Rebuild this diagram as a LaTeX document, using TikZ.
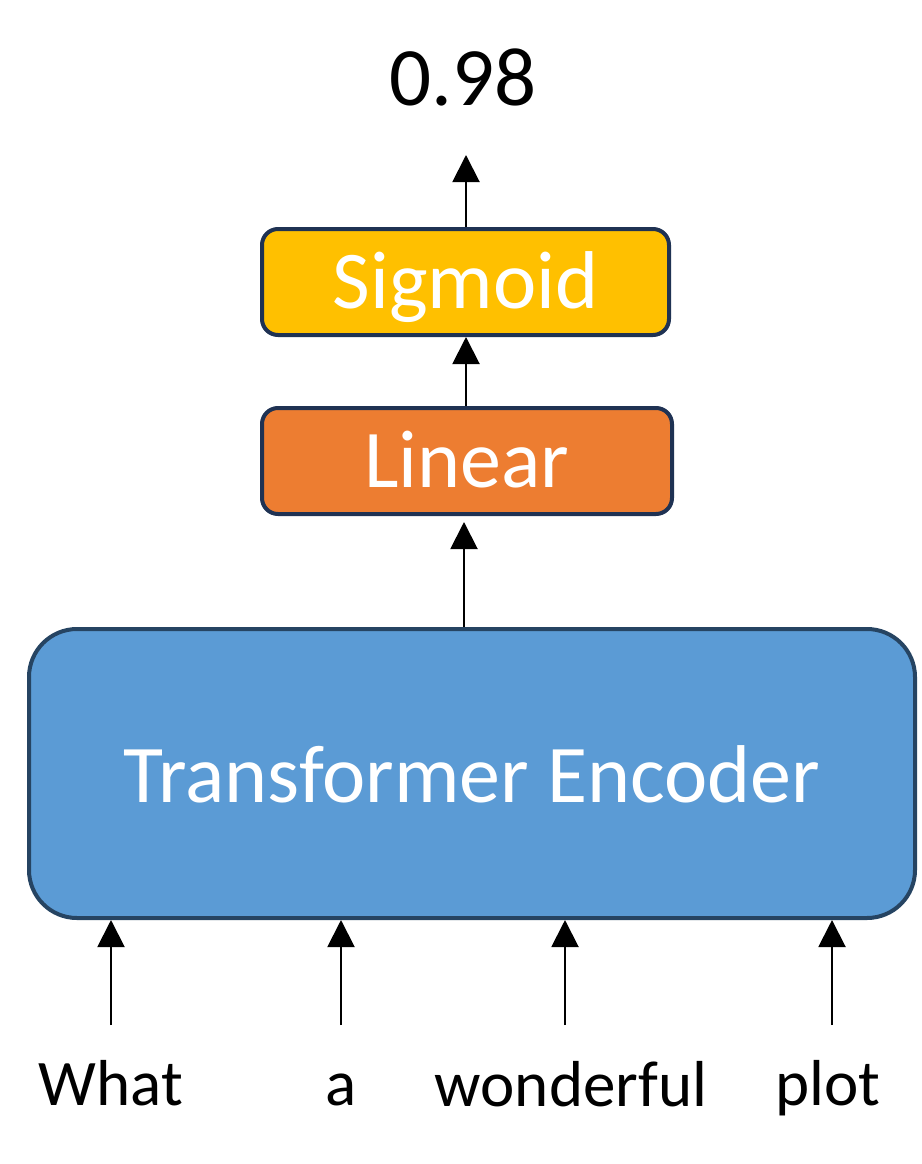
\documentclass[tikz,border=0pt]{standalone}
\usepackage{fontspec}
\setmainfont{Carlito}
\usetikzlibrary{arrows.meta}
\definecolor{sigfill}{HTML}{FFC000}
\definecolor{linfill}{HTML}{ED7D31}
\definecolor{encfill}{HTML}{5B9BD5}
\definecolor{boxline}{HTML}{1F3253}
\definecolor{encline}{HTML}{264462}
\tikzset{
  layerbox/.style={rectangle, rounded corners=16pt, line width=4pt, draw=boxline,
    inner sep=0pt, text=white, font=\fontsize{82}{82}\selectfont, text depth=0pt},
  arr/.style={line width=2pt, -{Triangle[width=27pt,length=27pt]}},
  word/.style={anchor=base, inner sep=0pt, font=\fontsize{65}{65}\selectfont},
}
\begin{document}
\begin{tikzpicture}[x=1pt,y=-1pt]
\useasboundingbox (0,0) rectangle (921,1164);
\node[anchor=base, inner sep=0pt, font=\fontsize{83}{83}\selectfont] (score) at (463,105) {0.98};
\node[layerbox, fill=sigfill, minimum width=407pt, minimum height=106pt, text height=52pt] (sig) at (465.5,282) {Sigmoid};
\node[layerbox, fill=linfill, minimum width=410pt, minimum height=106pt, text height=52pt] (lin) at (467,461) {Linear};
\node[layerbox, fill=encfill, draw=encline, rounded corners=48pt, minimum width=886pt, minimum height=289pt, text height=57pt] (enc) at (472,773.5) {Transformer Encoder};
\coordinate (out) at (466,155);
\coordinate (mid) at (464,0);
\draw[arr] (sig.north -| out) -- (out);
\draw[arr] (lin.north -| out) -- (sig.south -| out);
\draw[arr, shorten >=6pt] (enc.north -| mid) -- (lin.south -| mid);
\node[word] (w1) at (111,1105) {What};
\node[word] (w2) at (341,1105) {a};
\node[word] (w3) at (571,1106) {wonderful};
\node[word] (w4) at (828,1105) {plot};
\coordinate (t1) at (111,1025);
\coordinate (t2) at (341,1025);
\coordinate (t3) at (565,1025);
\coordinate (t4) at (832,1025);
\draw[arr] (t1) -- (t1 |- enc.south);
\draw[arr] (t2) -- (t2 |- enc.south);
\draw[arr] (t3) -- (t3 |- enc.south);
\draw[arr] (t4) -- (t4 |- enc.south);
\end{tikzpicture}
\end{document}
